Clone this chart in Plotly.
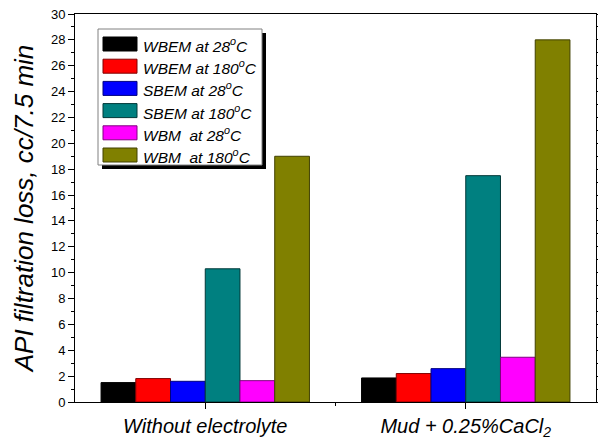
import plotly.graph_objects as go

categories = ["Without electrolyte", "Mud + 0.25%CaCl<sub>2</sub>"]
series_names = ["WBEM at 28<sup>o</sup>C", "WBEM at 180<sup>o</sup>C", "SBEM at 28<sup>o</sup>C",
                "SBEM at 180<sup>o</sup>C", "WBM  at 28<sup>o</sup>C", "WBM  at 180<sup>o</sup>C"]
wbem_28 = [1.5, 1.86]
wbem_180 = [1.81, 2.2]
sbem_28 = [1.6, 2.58]
sbem_180 = [10.3, 17.5]
wbm_28 = [1.65, 3.46]
wbm_180 = [19.0, 28.0]
series_values = [wbem_28, wbem_180, sbem_28, sbem_180, wbm_28, wbm_180]
colors = ["#000000", "#ff0000", "#0000ff", "#008080", "#ff00ff", "#808000"]
edges = ["#000000", "#800000", "#000080", "#003838", "#800080", "#404000"]
y_ticks = list(range(0, 31, 2))

fig = go.Figure()
for name, vals, c, e in zip(series_names, series_values, colors, edges):
    fig.add_trace(go.Bar(x=[0, 1], y=vals, name=name, showlegend=False,
                         marker=dict(color=c, line=dict(color=e, width=1))))

W, H = 598, 442
L, R, T, B = 75, 2, 14, 40
pw, ph = W - L - R, H - T - B

def px(x):
    return (x - L) / pw

def py(y):
    return (H - B - y) / ph

# legend box with shadow (pixel layout)
box_l, box_r, box_t, box_b = 98, 262, 29, 165
sh = 4
fig.add_shape(type="rect", xref="paper", yref="paper",
              x0=px(box_l + sh), x1=px(box_r + sh), y0=py(box_b + sh), y1=py(box_t + sh),
              fillcolor="black", line=dict(width=0), layer="above")
fig.add_shape(type="rect", xref="paper", yref="paper",
              x0=px(box_l), x1=px(box_r), y0=py(box_b), y1=py(box_t),
              fillcolor="white", line=dict(color="#808080", width=1), layer="above")
row0, row_step = 44, 22.2
for i, (name, c, e) in enumerate(zip(series_names, colors, edges)):
    yc = row0 + i * row_step
    fig.add_shape(type="rect", xref="paper", yref="paper",
                  x0=px(103), x1=px(137), y0=py(yc + 7), y1=py(yc - 7),
                  fillcolor=c, line=dict(color=e, width=1), layer="above")
    fig.add_annotation(xref="paper", yref="paper", x=px(141), y=py(yc + 1),
                       xanchor="left", yanchor="middle", showarrow=False, text=name,
                       font=dict(size=15.5, style="italic", color="black"))

fig.update_layout(
    width=W, height=H,
    margin=dict(l=L, r=R, t=T, b=B, autoexpand=False),
    paper_bgcolor="white", plot_bgcolor="white",
    barmode="group", bargap=0.2, bargroupgap=0,
    font=dict(family="Liberation Sans, Arial", color="black"),
    showlegend=False,
    xaxis=dict(range=[-0.5, 1.5], tickmode="array", tickvals=[0, 1], ticktext=categories,
               ticks="outside", ticklen=6, tickcolor="black", automargin=False,
               tickfont=dict(size=20, style="italic"),
               minor=dict(tickmode="array", tickvals=[0.5], ticks="outside", ticklen=3, tickcolor="black"),
               showline=True, linecolor="black", linewidth=1, mirror=True, showgrid=False, zeroline=False),
    yaxis=dict(range=[0, 30], tickmode="array", tickvals=y_ticks, automargin=False,
               ticks="outside", ticklen=6, tickcolor="black", tickfont=dict(size=13),
               minor=dict(dtick=1, ticks="outside", ticklen=3, tickcolor="black"),
               showline=True, linecolor="black", linewidth=1, mirror="allticks",
               showgrid=False, zeroline=False,
               title=dict(text="API filtration loss, cc/7.5 min", font=dict(size=26, style="italic"), standoff=9)),
)

fig.write_html("out.html", config={"displayModeBar": False})
with open("out.html", encoding="utf-8") as f:
    html = f.read()
html = html.replace("<head>", "<head><style>html,body{margin:0;padding:0;overflow:hidden;}</style>", 1)
with open("out.html", "w", encoding="utf-8") as f:
    f.write(html)
